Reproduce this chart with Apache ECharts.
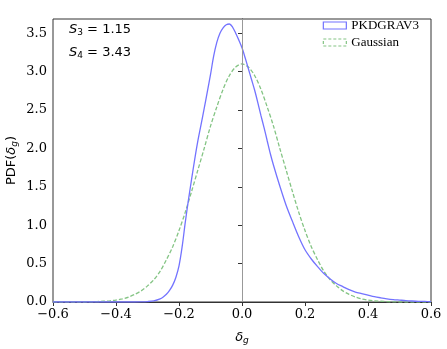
<!DOCTYPE html>
<html>
<head>
<meta charset="utf-8">
<script src="https://cdn.jsdelivr.net/npm/echarts@6/dist/echarts.min.js"></script>
<style>
html, body { margin: 0; padding: 0; background: #fff; }
#pdf { width: 447px; height: 349px; }
</style>
</head>
<body>
<div id="pdf"></div>
<script>
// PKDGRAV3 histogram
const simDelta = [-0.60, -0.40, -0.34, -0.32, -0.30, -0.28, -0.26, -0.25, -0.24, -0.23, -0.22, -0.21, -0.20,
  -0.19, -0.18, -0.17, -0.16, -0.15, -0.14, -0.13, -0.12, -0.11, -0.10, -0.09, -0.08, -0.07, -0.06,
  -0.05, -0.04, -0.03, -0.02, -0.01, 0.00, 0.01, 0.02, 0.03, 0.04, 0.05, 0.06, 0.07, 0.08, 0.09, 0.10,
  0.12, 0.14, 0.16, 0.18, 0.20, 0.22, 0.24, 0.26, 0.28, 0.30, 0.32, 0.34, 0.36, 0.38, 0.40, 0.42, 0.44,
  0.46, 0.48, 0.50, 0.52, 0.54, 0.56, 0.58, 0.60]
const simPdf = [0, 0, 0, 0.002, 0.006, 0.015, 0.04, 0.065, 0.10, 0.15, 0.22, 0.32, 0.47,
  0.72, 1.04, 1.33, 1.60, 1.86, 2.10, 2.31, 2.52, 2.74, 2.96, 3.20, 3.38, 3.50, 3.57,
  3.61, 3.62, 3.58, 3.50, 3.41, 3.31, 3.18, 3.04, 2.90, 2.76, 2.60, 2.43, 2.27, 2.10, 1.93, 1.78,
  1.51, 1.26, 1.05, 0.85, 0.68, 0.56, 0.46, 0.37, 0.30, 0.24, 0.20, 0.16, 0.13, 0.11, 0.09, 0.07, 0.055,
  0.042, 0.032, 0.025, 0.018, 0.013, 0.009, 0.007, 0.005]

// Gaussian with same variance
const gaussDelta = [-0.60, -0.58, -0.56, -0.54, -0.52, -0.50, -0.48, -0.46, -0.44, -0.42, -0.40, -0.38, -0.36,
  -0.34, -0.32, -0.30, -0.28, -0.26, -0.24, -0.22, -0.20, -0.18, -0.16, -0.14, -0.12, -0.10, -0.08,
  -0.06, -0.04, -0.02, 0.00, 0.02, 0.04, 0.06, 0.08, 0.10, 0.12, 0.14, 0.16, 0.18, 0.20, 0.22, 0.24,
  0.26, 0.28, 0.30, 0.32, 0.34, 0.36, 0.38, 0.40, 0.42, 0.44, 0.46, 0.48, 0.50, 0.52, 0.54, 0.56, 0.58, 0.60]
const gaussPdf = [0, 0, 0, 0, 0, 0, 0.002, 0.005, 0.01, 0.015, 0.025, 0.04, 0.065,
  0.10, 0.145, 0.21, 0.29, 0.40, 0.55, 0.72, 0.93, 1.17, 1.44, 1.72, 2.00, 2.29, 2.54,
  2.77, 2.95, 3.06, 3.10, 3.06, 2.95, 2.77, 2.54, 2.29, 2.00, 1.72, 1.44, 1.17, 0.93, 0.72, 0.55,
  0.40, 0.29, 0.21, 0.145, 0.10, 0.065, 0.04, 0.025, 0.015, 0.01, 0.005, 0.002, 0, 0, 0, 0, 0, 0]

const seriesNames = ['PKDGRAV3', 'Gaussian']
const skewText = ['1.15', '3.43']
const zeroLine = 0

const colors = ['#7373ff', '#84c484']
const tickFont = 'DejaVu Serif'

const chart = echarts.init(document.getElementById('pdf'))

function zip (xs, ys) {
  return xs.map((x, i) => [x, ys[i]])
}

const statRich = {
  i: {fontFamily: 'DejaVu Sans', fontStyle: 'italic', fontSize: 13, fill: '#000'},
  s: {fontFamily: 'DejaVu Sans', fontSize: 9, fill: '#000', padding: [6, 0, 0, 0]},
  n: {fontFamily: 'DejaVu Sans', fontSize: 13, fill: '#000'}
}

const option = {
  animation: false,
  grid: {
    left: 53, right: 16, top: 19, bottom: 47,
    outerBoundsMode: 'none',
    containLabel: false,
    show: true, borderColor: '#333', borderWidth: 1
  },
  legend: {
    data: [
      {name: seriesNames[0], itemStyle: {color: 'rgba(0,0,0,0)', borderColor: colors[0], borderWidth: 1.2}},
      {name: seriesNames[1], itemStyle: {color: 'rgba(0,0,0,0)', borderColor: colors[1], borderWidth: 1.2, borderType: [3, 2]}}
    ],
    orient: 'vertical',
    right: 23, top: 14,
    icon: 'rect',
    itemWidth: 23, itemHeight: 7,
    itemGap: 4,
    textStyle: {fontFamily: 'Liberation Serif', fontSize: 13, color: '#000'}
  },
  xAxis: {
    type: 'value',
    min: -0.6, max: 0.6, interval: 0.2,
    name: '{d|δ}{s|g}',
    nameLocation: 'middle',
    nameGap: 28,
    nameMoveOverlap: false,
    nameTextStyle: {
      rich: {
        d: {fontFamily: 'DejaVu Sans', fontStyle: 'italic', fontSize: 13, color: '#000'},
        s: {fontFamily: 'DejaVu Sans', fontStyle: 'italic', fontSize: 9, color: '#000', padding: [6, 0, 0, 0]}
      }
    },
    splitLine: {show: false},
    axisLine: {onZero: false, lineStyle: {color: '#333'}},
    axisTick: {length: 4, lineStyle: {color: '#333'}},
    axisLabel: {
      fontFamily: tickFont, fontSize: 13, color: '#000', margin: 6,
      formatter: v => v.toFixed(1).replace('-', '−')
    }
  },
  yAxis: {
    type: 'value',
    min: 0, max: 3.685, interval: 0.5,
    name: '{n|PDF(}{d|δ}{s|g}{n|)}',
    nameLocation: 'middle',
    nameRotate: 90,
    nameGap: 34,
    nameMoveOverlap: false,
    nameTextStyle: {
      rich: {
        n: {fontFamily: 'DejaVu Sans', fontSize: 13, color: '#000'},
        d: {fontFamily: 'DejaVu Sans', fontStyle: 'italic', fontSize: 13, color: '#000'},
        s: {fontFamily: 'DejaVu Sans', fontStyle: 'italic', fontSize: 9, color: '#000', padding: [6, 0, 0, 0]}
      }
    },
    splitLine: {show: false},
    axisLine: {show: true, lineStyle: {color: '#333'}},
    axisTick: {show: true, length: 4, lineStyle: {color: '#333'}},
    axisLabel: {
      fontFamily: tickFont, fontSize: 13, color: '#000', margin: 6,
      formatter: v => v.toFixed(1),
      showMaxLabel: false
    }
  },
  graphic: [
    {
      type: 'text', left: 69, top: 23,
      style: {rich: statRich, text: '{i|S}{s|3}{n| = ' + skewText[0] + '}'}
    },
    {
      type: 'text', left: 69, top: 46,
      style: {rich: statRich, text: '{i|S}{s|4}{n| = ' + skewText[1] + '}'}
    }
  ],
  series: [
    {
      type: 'line',
      name: seriesNames[0],
      data: zip(simDelta, simPdf),
      showSymbol: false,
      smooth: 0.3,
      color: colors[0],
      lineStyle: {width: 1.3, color: colors[0]},
      z: 3,
      markLine: {
        silent: true,
        symbol: 'none',
        label: {show: false},
        lineStyle: {color: '#999', width: 1, type: 'solid'},
        data: [{xAxis: zeroLine}]
      }
    },
    {
      type: 'line',
      name: seriesNames[1],
      data: zip(gaussDelta, gaussPdf),
      showSymbol: false,
      smooth: 0.3,
      color: colors[1],
      lineStyle: {width: 1.3, color: colors[1], type: [4, 2]},
      z: 2
    }
  ]
}
chart.setOption(option)
</script>
</body>
</html>
